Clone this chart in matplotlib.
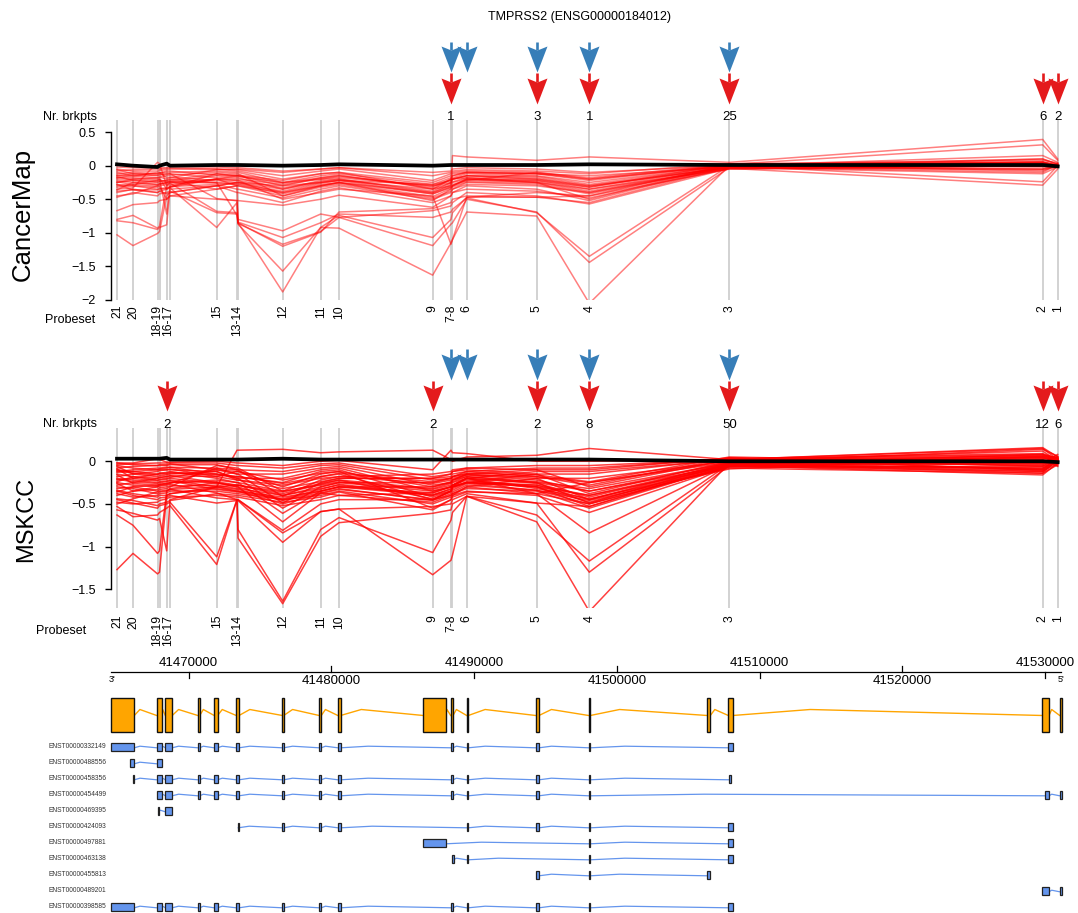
import numpy as np
import matplotlib.pyplot as plt
from matplotlib.path import Path
from matplotlib.patches import Rectangle

plt.rcParams['font.family'] = ['Liberation Sans', 'DejaVu Sans']

W, H = 1078, 913
X0, X1 = 41464548, 41531156  # genomic window

# probesets, left to right (3' -> 5')
probe_names = ['21', '20', '19', '18', '17', '16', '15', '14', '13', '12', '11',
               '10', '9', '8', '7', '6', '5', '4', '3', '2', '1']
probe_pos = [41464975, 41466097, 41467814, 41467954, 41468458, 41468690, 41471962,
             41473385, 41473455, 41476587, 41479250, 41480533, 41487099, 41488381,
             41488486, 41489481, 41494387, 41498073, 41507884, 41529846, 41530897]
probe_groups = ['21', '20', '18-19', '16-17', '15', '13-14', '12', '11', '10', '9',
                '7-8', '6', '5', '4', '3', '2', '1']

# breakpoints (arrows)
blue_probes = ['8', '6', '5', '4', '3']
cm_red_probes = ['8', '5', '4', '3', '2', '1']
cm_red_counts = [1, 3, 1, 25, 6, 2]
ms_red_probes = ['17', '9', '5', '4', '3', '2', '1']
ms_red_counts = [2, 2, 2, 8, 50, 12, 6]

# CancerMap expression profiles
cm_mean = [0.02, 0.0, -0.02, 0.0, 0.03, 0.0, 0.01, 0.01, 0.01, 0.0, 0.01, 0.02,
           0.0, 0.01, 0.01, 0.01, 0.01, 0.02, 0.01, 0.01, -0.01]
cm_profiles = [
    [-1.03, -1.19, -1.01, -0.98, -0.45, -0.40, -0.30, -0.25, -0.25, -0.35, -0.25, -0.22, -0.35, -0.20, -0.15, -0.10, -0.12, -0.15, -0.02, 0.05, 0.0],
    [-0.80, -0.74, -0.93, -0.90, -0.30, -0.25, -0.20, -0.15, -0.15, -0.25, -0.20, -0.18, -0.30, -0.25, -0.20, -0.15, -0.20, -0.30, -0.03, 0.10, 0.02],
    [-0.82, -0.85, -0.95, -0.92, -0.88, -0.35, -0.30, -0.25, -0.25, -0.30, -0.25, -0.22, -0.28, -0.22, -0.20, -0.18, -0.25, -0.35, -0.05, 0.0, 0.03],
    [-0.67, -0.58, -0.55, -0.52, -0.50, -0.45, -0.50, -0.52, -0.85, -1.20, -0.99, -0.69, -0.64, -0.55, -0.50, -0.45, -0.47, -0.55, -0.02, -0.05, 0.0],
    [-0.47, -0.40, -0.45, -0.42, -0.40, -0.38, -0.70, -0.72, -0.87, -1.57, -0.92, -0.74, -1.07, -0.80, -0.70, -0.47, -0.40, -0.45, 0.02, 0.0, -0.02],
    [-0.40, -0.35, -0.40, -0.38, -0.35, -0.33, -0.92, -0.55, -0.85, -1.88, -0.92, -0.93, -1.63, -1.15, -1.10, -0.69, -0.75, -2.05, 0.0, 0.05, 0.0],
    [-0.30, -0.28, -0.30, -0.30, -0.28, -0.26, -0.68, -0.70, -0.86, -1.17, -0.98, -0.77, -1.19, -0.87, -0.85, -0.50, -0.69, -1.44, -0.03, 0.02, 0.0],
    [-0.25, -0.22, -0.25, -0.24, -0.22, -0.20, -0.25, -0.74, -0.84, -1.07, -0.85, -0.72, -0.77, -0.69, -0.65, -0.48, -0.70, -1.35, 0.0, -0.02, 0.01],
    [-0.20, -0.20, -0.22, -0.20, -0.72, -0.30, -0.20, -0.30, -0.80, -0.97, -0.72, -0.77, -0.67, -0.60, -0.55, -0.40, -0.45, -0.57, -0.04, -0.29, -0.05],
    [-0.15, -0.12, -0.15, -0.14, -0.13, -0.12, -0.49, -0.52, -0.52, -0.59, -0.50, -0.44, -0.62, -0.45, -0.40, -0.30, -0.35, -0.52, 0.0, -0.24, 0.0],
    [-0.10, -0.15, -0.18, -0.17, -0.15, -0.14, -0.10, -0.12, -0.12, -0.45, -0.30, -0.25, -0.52, -0.35, -0.30, -0.20, -0.25, -0.50, 0.02, 0.31, 0.08],
    [-0.05, -0.08, -0.08, -0.07, -0.06, -0.05, -0.05, -0.08, -0.08, -0.20, -0.12, -0.10, -0.35, -0.30, 0.15, 0.13, 0.08, 0.13, 0.05, 0.39, 0.10],
    [-0.35, -0.33, 0.05, 0.03, -0.30, -0.28, -0.20, -0.22, -0.22, -0.50, -0.40, -0.35, -0.45, -1.17, -1.10, -0.47, -0.47, -0.45, -0.05, 0.0, -0.03],
    [-0.28, -0.30, -0.32, -0.31, -0.50, -0.45, -0.35, -0.30, -0.30, -0.40, -0.28, -0.25, -0.40, -0.30, -0.28, -0.22, -0.10, -0.20, 0.0, 0.05, 0.0],
    [-0.22, -0.25, -0.28, -0.27, -0.25, -0.23, -0.15, -0.18, -0.18, -0.35, -0.22, -0.20, -0.38, -0.25, -0.20, -0.15, -0.18, -0.30, -0.02, 0.0, 0.0],
    [-0.18, -0.18, -0.20, -0.19, -0.35, -0.32, -0.12, -0.15, -0.15, -0.30, -0.18, -0.15, -0.32, -0.20, -0.18, -0.12, -0.15, -0.25, 0.0, 0.10, 0.02],
    [-0.12, -0.10, -0.12, -0.11, -0.10, -0.10, -0.08, -0.10, -0.10, -0.25, -0.15, -0.12, -0.28, -0.18, -0.15, -0.10, -0.12, -0.22, 0.01, 0.02, 0.0],
    [-0.08, -0.06, -0.05, -0.05, -0.04, -0.04, -0.05, -0.06, -0.06, -0.15, -0.08, -0.05, -0.22, -0.12, -0.10, -0.08, -0.10, -0.18, 0.02, 0.05, 0.0],
    [-0.32, -0.30, -0.35, -0.34, -0.33, -0.31, -0.28, -0.35, -0.35, -0.48, -0.35, -0.30, -0.50, -0.40, -0.35, -0.28, -0.30, -0.40, -0.02, -0.10, 0.02],
    [-0.38, -0.36, -0.40, -0.38, -0.42, -0.40, -0.30, -0.40, -0.40, -0.55, -0.38, -0.33, -0.55, -0.45, -0.40, -0.35, -0.38, -0.48, -0.04, 0.0, -0.02],
    [-0.02, -0.03, -0.03, -0.03, -0.03, -0.02, -0.02, -0.03, -0.03, -0.08, -0.05, -0.03, -0.10, -0.08, -0.05, -0.03, -0.05, -0.10, 0.0, 0.02, 0.0],
    [-0.14, -0.16, -0.10, -0.10, -0.18, -0.17, -0.22, -0.25, -0.25, -0.40, -0.30, -0.25, -0.42, -0.32, -0.30, -0.20, -0.22, -0.35, -0.01, -0.05, 0.03],
    [-0.25, -0.20, -0.18, -0.17, -0.20, -0.18, -0.06, -0.05, -0.05, -0.10, -0.05, -0.03, -0.15, -0.10, -0.08, -0.06, -0.08, -0.12, 0.03, 0.08, 0.04],
    [-0.45, -0.42, -0.30, -0.28, -0.25, -0.24, -0.35, -0.30, -0.30, -0.45, -0.32, -0.28, -0.48, -0.38, -0.35, -0.25, -0.28, -0.42, -0.03, -0.12, -0.02],
    [-0.18, -0.14, -0.14, -0.13, -0.12, -0.12, -0.18, -0.20, -0.20, -0.28, -0.20, -0.16, -0.30, -0.22, -0.20, -0.15, -0.16, -0.28, 0.0, 0.15, 0.05],
    [-0.06, -0.12, -0.12, -0.11, -0.08, -0.08, -0.14, -0.14, -0.14, -0.22, -0.12, -0.10, -0.25, -0.15, -0.12, -0.10, -0.12, -0.20, 0.01, -0.08, 0.02],
    [-0.36, -0.25, -0.28, -0.27, -0.26, -0.25, -0.25, -0.27, -0.27, -0.38, -0.26, -0.22, -0.42, -0.32, -0.30, -0.22, -0.24, -0.38, -0.02, 0.04, 0.0],
    [-0.28, -0.36, -0.36, -0.35, -0.34, -0.32, -0.20, -0.22, -0.22, -0.33, -0.24, -0.20, -0.40, -0.28, -0.25, -0.20, -0.22, -0.32, -0.01, 0.0, 0.01],
    [-0.16, -0.22, -0.24, -0.23, -0.22, -0.21, -0.12, -0.16, -0.16, -0.26, -0.18, -0.14, -0.34, -0.26, -0.24, -0.18, -0.20, -0.32, 0.02, 0.06, 0.01],
    [-0.24, -0.28, -0.22, -0.21, -0.24, -0.23, -0.26, -0.28, -0.28, -0.42, -0.30, -0.26, -0.46, -0.34, -0.32, -0.24, -0.26, -0.40, -0.03, -0.06, -0.02],
]

# MSKCC expression profiles
ms_mean = [0.03, 0.03, 0.03, 0.03, 0.04, 0.02, 0.02, 0.02, 0.02, 0.03, 0.02, 0.02,
           0.02, 0.02, 0.02, 0.02, 0.02, 0.02, 0.0, 0.0, -0.01]
ms_profiles = [
    [-1.27, -1.08, -1.32, -1.30, -0.40, -0.38, -0.30, -0.28, -0.28, -0.40, -0.30, -0.25, -0.35, -0.30, -0.28, -0.20, -0.25, -0.35, -0.05, -0.08, 0.02],
    [-0.63, -0.75, -1.08, -1.05, -0.35, -0.32, -0.25, -0.30, -0.30, -0.45, -0.35, -0.30, -0.40, -0.35, -0.30, -0.25, -0.30, -0.40, -0.06, -0.12, 0.0],
    [-0.57, -0.61, -0.69, -0.67, -1.05, -0.45, -0.30, -0.35, -0.35, -0.50, -0.38, -0.33, -0.45, -0.35, -0.30, -0.25, -0.28, -0.45, -0.04, 0.05, 0.03],
    [-0.53, -0.65, -0.63, -0.60, -0.55, -0.52, -1.21, -0.45, -0.90, -1.67, -0.88, -0.72, -0.61, -0.57, -0.50, -0.41, -0.49, -0.53, -0.05, -0.10, 0.0],
    [-0.45, -0.49, -0.55, -0.52, -0.50, -0.48, -1.12, -0.45, -0.80, -1.64, -0.80, -0.66, -1.07, -0.69, -0.60, -0.41, -0.63, -1.17, -0.03, 0.0, -0.05],
    [-0.35, -0.40, -0.45, -0.43, -0.42, -0.40, -0.49, -0.46, -0.46, -0.95, -0.59, -0.56, -1.33, -1.16, -1.10, -0.41, -0.71, -1.76, -0.02, 0.05, 0.0],
    [-0.30, -0.32, -0.38, -0.36, -0.35, -0.33, -0.43, -0.45, -0.45, -0.84, -0.59, -0.56, -0.53, -0.50, -0.45, -0.38, -0.49, -1.30, -0.05, -0.16, -0.02],
    [-0.25, -0.28, -0.30, -0.29, -0.28, -0.27, -0.37, -0.45, -0.45, -0.81, -0.50, -0.45, -0.45, -0.40, -0.38, -0.30, -0.38, -0.84, -0.04, 0.08, 0.0],
    [-0.20, -0.22, -0.25, -0.24, -0.23, -0.22, -0.30, 0.13, 0.13, 0.14, 0.10, 0.11, 0.13, 0.02, 0.0, 0.05, 0.07, 0.15, 0.02, 0.16, 0.05],
    [-0.15, -0.18, -0.20, -0.19, -0.18, -0.17, -0.25, -0.30, -0.30, -0.71, -0.37, -0.40, -0.37, -0.30, -0.28, -0.22, -0.30, -0.53, -0.03, -0.12, 0.02],
    [-0.10, -0.12, -0.15, -0.14, -0.13, -0.12, -0.20, -0.25, -0.25, -0.61, -0.35, -0.30, -0.30, -0.25, -0.22, -0.18, -0.25, -0.49, -0.02, -0.04, 0.04],
    [-0.05, -0.08, -0.10, -0.09, -0.08, -0.07, -0.15, -0.20, -0.20, -0.55, -0.30, -0.25, -0.25, -0.20, -0.18, -0.15, -0.20, -0.45, -0.01, 0.14, 0.06],
    [-0.02, -0.04, -0.05, -0.04, -0.04, -0.03, -0.10, -0.15, -0.15, -0.49, -0.25, -0.20, -0.20, -0.15, -0.12, -0.10, -0.15, -0.38, 0.0, -0.05, 0.0],
    [-0.40, -0.35, -0.30, -0.28, -0.27, -0.26, -0.08, -0.10, -0.10, -0.41, -0.22, -0.18, -0.15, -0.12, -0.10, -0.08, -0.10, -0.30, 0.02, 0.08, 0.03],
    [-0.32, -0.30, -0.35, -0.33, -0.32, -0.30, -0.05, -0.08, -0.08, -0.35, -0.18, -0.15, -0.45, -0.35, -0.30, -0.20, -0.38, -0.25, 0.01, 0.12, 0.0],
    [-0.28, -0.25, -0.20, -0.19, -0.18, -0.17, -0.18, -0.12, -0.12, -0.30, -0.15, -0.12, -0.55, -0.45, -0.40, -0.30, -0.20, -0.20, 0.0, -0.03, 0.02],
    [-0.22, -0.20, -0.15, -0.14, -0.14, -0.13, -0.15, -0.18, -0.18, -0.25, -0.12, -0.10, -0.42, -0.35, -0.32, -0.25, -0.15, -0.15, 0.03, -0.10, 0.04],
    [-0.18, -0.15, -0.12, -0.11, -0.10, -0.10, -0.12, -0.20, -0.20, -0.20, -0.10, -0.08, -0.35, -0.30, -0.28, -0.20, -0.12, -0.12, 0.02, 0.06, 0.02],
    [-0.12, -0.10, -0.08, -0.08, -0.07, -0.07, -0.08, -0.15, -0.15, -0.15, -0.08, -0.06, -0.28, -0.25, -0.22, -0.15, -0.10, -0.10, 0.04, -0.06, 0.05],
    [-0.08, -0.06, -0.05, -0.05, -0.05, -0.04, -0.04, -0.10, -0.10, -0.12, -0.05, -0.04, -0.22, -0.20, -0.18, -0.12, -0.08, -0.08, 0.03, 0.09, 0.03],
    [-0.04, -0.03, -0.02, -0.02, -0.02, -0.02, -0.02, -0.05, -0.05, -0.08, -0.03, -0.02, -0.18, -0.15, -0.12, -0.08, -0.05, -0.05, 0.02, 0.04, 0.01],
    [-0.38, -0.42, -0.40, -0.38, -0.37, -0.35, -0.35, -0.38, -0.38, -0.45, -0.40, -0.35, -0.50, -0.42, -0.40, -0.35, -0.40, -0.60, -0.06, 0.02, -0.03],
    [-0.48, -0.50, -0.48, -0.46, -0.44, -0.42, -0.40, -0.42, -0.42, -0.52, -0.45, -0.40, -0.48, -0.40, -0.38, -0.32, -0.35, -0.55, -0.05, -0.02, 0.0],
    [-0.26, -0.35, -0.33, -0.31, -0.30, -0.29, -0.28, -0.32, -0.32, -0.40, -0.32, -0.28, -0.40, -0.32, -0.30, -0.25, -0.30, -0.48, -0.04, -0.08, 0.01],
    [-0.16, -0.26, -0.28, -0.27, -0.26, -0.25, -0.22, -0.25, -0.25, -0.35, -0.28, -0.24, -0.33, -0.28, -0.25, -0.20, -0.26, -0.42, -0.03, -0.14, 0.03],
    [-0.06, -0.15, -0.18, -0.17, -0.16, -0.15, -0.12, -0.22, -0.22, -0.28, -0.20, -0.18, -0.26, -0.22, -0.20, -0.16, -0.22, -0.35, -0.02, 0.03, 0.02],
    [-0.02, -0.02, 0.03, 0.02, -0.01, -0.01, 0.0, -0.02, -0.02, -0.05, 0.0, 0.01, -0.10, 0.13, 0.10, 0.09, 0.0, 0.0, 0.02, 0.15, 0.02],
    [-0.34, -0.38, -0.42, -0.40, -0.40, -0.38, -0.32, -0.35, -0.35, -0.42, -0.35, -0.30, -0.37, -0.30, -0.28, -0.20, -0.32, -0.44, -0.08, -0.14, -0.04],
    [-0.44, -0.46, -0.52, -0.50, -0.48, -0.46, -0.38, -0.40, -0.40, -0.48, -0.42, -0.36, -0.57, -0.45, -0.42, -0.36, -0.38, -0.50, -0.07, -0.06, -0.02],
    [-0.13, -0.12, -0.10, -0.10, -0.10, -0.09, -0.18, -0.22, -0.22, -0.32, -0.24, -0.20, -0.20, -0.18, -0.15, -0.12, -0.18, -0.25, -0.01, 0.07, 0.04],
    [-0.09, -0.20, -0.23, -0.22, -0.21, -0.20, -0.26, -0.28, -0.28, -0.38, -0.27, -0.22, -0.32, -0.26, -0.24, -0.18, -0.24, -0.32, -0.02, -0.09, 0.0],
    [-0.21, -0.24, -0.26, -0.25, -0.24, -0.23, -0.33, -0.36, -0.36, -0.44, -0.33, -0.27, -0.39, -0.33, -0.30, -0.24, -0.28, -0.40, -0.03, 0.04, 0.01],
    [-0.24, -0.18, -0.22, -0.21, -0.20, -0.19, -0.10, -0.12, -0.12, -0.22, -0.14, -0.12, -0.30, -0.24, -0.22, -0.16, -0.18, -0.28, 0.04, -0.11, -0.03],
    [-0.36, -0.30, -0.28, -0.27, -0.26, -0.25, -0.24, -0.28, -0.28, -0.36, -0.26, -0.22, -0.44, -0.36, -0.34, -0.26, -0.34, -0.46, -0.09, 0.06, 0.05],
    [-0.11, -0.14, -0.16, -0.15, -0.15, -0.14, -0.16, -0.18, -0.18, -0.26, -0.18, -0.14, -0.24, -0.20, -0.18, -0.14, -0.16, -0.24, 0.05, -0.02, 0.08],
    [-0.50, -0.44, -0.36, -0.35, -0.34, -0.33, -0.30, -0.33, -0.33, -0.46, -0.37, -0.32, -0.46, -0.38, -0.36, -0.28, -0.34, -0.50, -0.06, 0.01, -0.06],
]

# gene model (exon start/end, genomic)
exon_start = [41464548, 41467758, 41468360, 41470638, 41471787, 41473329, 41476559,
              41479145, 41480449, 41486440, 41488360, 41489481, 41494316, 41498030,
              41506342, 41507814, 41529826, 41531038]
exon_end = [41466188, 41468115, 41468844, 41470771, 41472025, 41473525, 41476657,
            41479292, 41480645, 41488010, 41488521, 41489593, 41494547, 41498142,
            41506553, 41508122, 41530288, 41531200]
gene_ticks = [41470000, 41480000, 41490000, 41500000, 41510000, 41520000, 41530000]

# transcripts: gene exon index, or explicit (start, end)
tx_names = ['ENST00000332149', 'ENST00000488556', 'ENST00000458356', 'ENST00000454499',
            'ENST00000469395', 'ENST00000424093', 'ENST00000497881', 'ENST00000463138',
            'ENST00000455813', 'ENST00000489201', 'ENST00000398585']
tx_exons = [
    [0, 1, 2, 3, 4, 5, 6, 7, 8, 10, 11, 12, 13, 15],
    [(41465901, 41466188), 1],
    [(41466069, 41466188), 1, 2, 3, 4, 5, 6, 7, 8, 10, 11, 12, 13, (41507860, 41507930)],
    [1, 2, 3, 4, 5, 6, 7, 8, 10, 11, 12, 13, (41530000, 41530288), 17],
    [(41467830, 41467900), 2],
    [(41473420, 41473470), 6, 7, 8, 11, 12, 13, 15],
    [9, 13, 15],
    [(41488480, 41488530), 11, 13, 15],
    [12, 13, 14],
    [16, 17],
    [0, 1, 2, 3, 4, 5, 6, 7, 8, 10, 11, 12, 13, 15],
]


def px_axes(fig, x0, y0, x1, y1):
    return fig.add_axes([x0 / W, 1 - y1 / H, (x1 - x0) / W, (y1 - y0) / H])


def fig_text(fig, x, y, s, **kw):
    fig.text(x / W, 1 - y / H, s, **kw)


fig = plt.figure(figsize=(W / 100, H / 100), dpi=100)
LEFT, RIGHT = 110.9, 1061.4


def line_panel(top, bottom, ylim, yticks, profiles, mean, alpha):
    ax = px_axes(fig, LEFT, top, RIGHT, bottom)
    ax.set_xlim(X0, X1)
    ax.set_ylim(*ylim)
    for p in probe_pos:
        ax.axvline(p, color='#cfcfcf', lw=1.3, zorder=0)
    for prof in profiles:
        ax.plot(probe_pos, prof, color='red', alpha=alpha, lw=1.1, zorder=2)
    ax.plot(probe_pos, mean, color='black', lw=2.7, zorder=3)
    for s in ['top', 'right', 'bottom']:
        ax.spines[s].set_visible(False)
    ax.spines['left'].set_bounds(min(yticks), max(yticks))
    ax.spines['left'].set_linewidth(1.0)
    ax.set_xticks([])
    ax.set_yticks(yticks)
    ax.set_yticklabels([('%g' % t).replace('-', '\u2212') for t in yticks])
    ax.tick_params(axis='y', length=4, width=1.0, pad=7, labelsize=9)
    ax.patch.set_alpha(0)
    return ax


ax_cm = line_panel(120, 300, (-2.0, 0.68), [0.5, 0, -0.5, -1, -1.5, -2],
                   cm_profiles, cm_mean, 0.5)
ax_ms = line_panel(428, 608, (-1.72, 0.39), [0, -0.5, -1, -1.5],
                   ms_profiles, ms_mean, 0.75)

# overlay: x genomic, y in pixels
ov = px_axes(fig, LEFT, 0, RIGHT, H)
ov.set_xlim(X0, X1)
ov.set_ylim(H, 0)
ov.axis('off')

pos_of = dict(zip(probe_names, probe_pos))
head = Path([(0, -13), (-10, 13), (0, 9), (10, 13), (0, -13)],
            [Path.MOVETO, Path.LINETO, Path.LINETO, Path.LINETO, Path.CLOSEPOLY])
BLUE, RED = '#377EB8', '#E41A1C'


def arrows(names, shaft, center, color):
    xs = [pos_of[n] for n in names]
    ov.vlines(xs, shaft[0], shaft[1], color=color, lw=1.9, clip_on=False)
    ov.plot(xs, [center] * len(xs), linestyle='none', marker=head, ms=18.7,
            color=color, mew=0, clip_on=False)


def probe_labels(y):
    for g in probe_groups:
        parts = g.split('-')
        x = pos_of[parts[-1]]
        if g == '16-17':
            x = (pos_of['16'] + pos_of['17']) / 2
        ov.text(x, y, g, rotation=90, ha='center', va='top', fontsize=8.8)


# CancerMap arrows / labels
arrows(blue_probes, (42, 50), 59.2, BLUE)
arrows(cm_red_probes, (73, 82), 91.2, RED)
for n, c in zip(cm_red_probes, cm_red_counts):
    ov.text(pos_of[n], 117, str(c), ha='center', va='center', fontsize=9.5)
probe_labels(305)

# MSKCC arrows / labels
arrows(blue_probes, (349, 358), 367.5, BLUE)
arrows(ms_red_probes, (381, 389), 398, RED)
for n, c in zip(ms_red_probes, ms_red_counts):
    ov.text(pos_of[n], 425, str(c), ha='center', va='center', fontsize=9.5)
probe_labels(615)

fig_text(fig, 580, 17, 'TMPRSS2 (ENSG00000184012)', ha='center', va='center', fontsize=9)
fig_text(fig, 97, 117, 'Nr. brkpts', ha='right', va='center', fontsize=9)
fig_text(fig, 95, 320, 'Probeset', ha='right', va='center', fontsize=9)
fig_text(fig, 97, 424, 'Nr. brkpts', ha='right', va='center', fontsize=9)
fig_text(fig, 86, 631, 'Probeset', ha='right', va='center', fontsize=9)
fig_text(fig, 23, 214, 'CancerMap', rotation=90, ha='center', va='center', fontsize=18.5)
fig_text(fig, 26, 519, 'MSKCC', rotation=90, ha='center', va='center', fontsize=17)

# genomic axis
AX_Y = 672
ov.plot([X0, X1], [AX_Y, AX_Y], color='black', lw=0.9, clip_on=False)
for i, t in enumerate(gene_ticks):
    if i % 2 == 0:
        ov.plot([t, t], [AX_Y, AX_Y + 6], color='black', lw=0.9)
        ov.text(t, 663, str(t), ha='center', va='center', fontsize=9.5)
    else:
        ov.plot([t, t], [AX_Y - 6, AX_Y], color='black', lw=0.9)
        ov.text(t, 681, str(t), ha='center', va='center', fontsize=9.5)
ov.text(X0 + 100, 680, "3'", ha='center', va='center', fontsize=6.5)
ov.text(X1 - 50, 679, "5'", ha='center', va='center', fontsize=6.5)


def draw_model(starts, ends, yc, h, fill, edge, line_col, base_off, amp, lw_edge, lw_line):
    order = np.argsort(starts)
    starts = [starts[k] for k in order]
    ends = [ends[k] for k in order]
    for k in range(len(starts) - 1):
        a, b = ends[k], starts[k + 1]
        if b <= a:
            continue
        ov.plot([a, a + 0.25 * (b - a), b],
                [yc + base_off, yc + base_off - amp, yc + base_off],
                color=line_col, lw=lw_line, zorder=2, clip_on=False)
    for s, e in zip(starts, ends):
        w = max(e - s, 110)
        ov.add_patch(Rectangle((s, yc - h / 2), w, h, facecolor=fill, edgecolor=edge,
                               lw=lw_edge, zorder=3, clip_on=False))


# canonical gene model
draw_model(exon_start, exon_end, 715, 34, '#FFA500', '#111111', '#FFA500', 0.5, 6, 1.0, 1.0)

# transcripts
for r, (name, exs) in enumerate(zip(tx_names, tx_exons)):
    yc = 747 + 16 * r
    st, en = [], []
    for e in exs:
        if isinstance(e, tuple):
            st.append(e[0]); en.append(e[1])
        else:
            st.append(exon_start[e]); en.append(exon_end[e])
    draw_model(st, en, yc, 8, '#6495ED', '#222222', '#6495ED', 0.8, 1.6, 0.9, 0.9)
    fig_text(fig, 106.5, yc - 1, name, ha='right', va='center', fontsize=4.8, color='#333333')

fig.savefig('out.png', dpi=100)
